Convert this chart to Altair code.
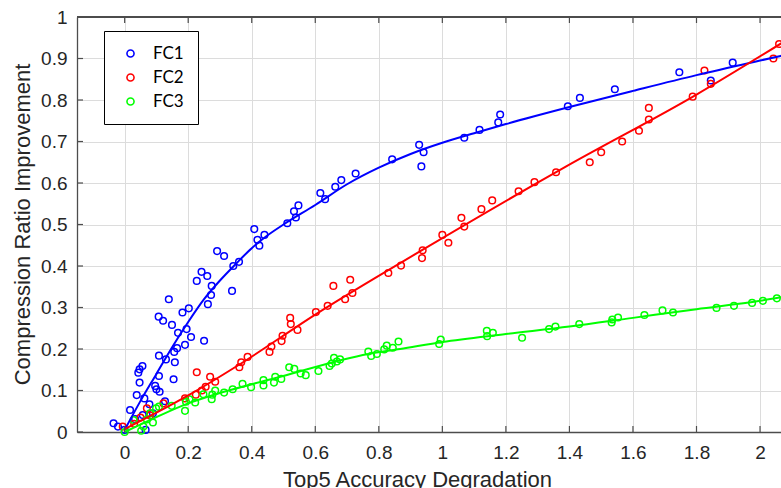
import altair as alt
import pandas as pd

# ---------------- data ----------------
series_names = ["FC1", "FC2", "FC3"]
series_colors = ["#0000ff", "#ff0000", "#00ff00"]

fc1_x = [-0.035, -0.021, 0.0, 0.017, 0.033, 0.038, 0.043, 0.047, 0.056, 0.047, 0.057, 0.066,
         0.062, 0.078, 0.089, 0.096, 0.1, 0.11, 0.108, 0.108, 0.107, 0.121, 0.13, 0.127, 0.139,
         0.149, 0.154, 0.158, 0.156, 0.165, 0.168, 0.182, 0.19, 0.195, 0.202, 0.209, 0.227,
         0.242, 0.25, 0.26, 0.262, 0.272, 0.274, 0.291, 0.313, 0.338, 0.342, 0.36, 0.408,
         0.418, 0.424, 0.44, 0.512, 0.533, 0.539, 0.547, 0.616, 0.631, 0.663, 0.682, 0.727,
         0.842, 0.927, 0.941, 0.934, 1.069, 1.117, 1.176, 1.182, 1.395, 1.433, 1.543, 1.746,
         1.845, 1.914]
fc1_y = [0.021, 0.013, 0.005, 0.053, 0.031, 0.089, 0.143, 0.151, 0.159, 0.119, 0.041, 0.005,
         0.081, 0.067, 0.045, 0.111, 0.103, 0.097, 0.135, 0.184, 0.278, 0.268, 0.175, 0.074,
         0.32, 0.258, 0.127, 0.168, 0.193, 0.202, 0.239, 0.288, 0.21, 0.248, 0.298, 0.229,
         0.364, 0.386, 0.22, 0.376, 0.308, 0.33, 0.352, 0.436, 0.424, 0.34, 0.4, 0.41, 0.489,
         0.463, 0.449, 0.475, 0.503, 0.532, 0.517, 0.546, 0.576, 0.561, 0.591, 0.607, 0.623,
         0.657, 0.692, 0.674, 0.64, 0.709, 0.728, 0.746, 0.765, 0.785, 0.805, 0.826, 0.867,
         0.847, 0.89]

fc2_x = [-0.006, 0.03, 0.05, 0.07, 0.08, 0.122, 0.19, 0.224, 0.227, 0.243, 0.255, 0.269,
         0.285, 0.361, 0.367, 0.387, 0.456, 0.462, 0.494, 0.497, 0.521, 0.523, 0.544, 0.602,
         0.639, 0.657, 0.694, 0.71, 0.717, 0.83, 0.87, 0.936, 0.938, 1.0, 1.019, 1.06, 1.069,
         1.123, 1.157, 1.24, 1.29, 1.358, 1.464, 1.5, 1.566, 1.619, 1.65, 1.65, 1.788, 1.825,
         1.845, 2.042, 2.06]
fc2_y = [0.013, 0.02, 0.035, 0.057, 0.04, 0.069, 0.081, 0.09, 0.144, 0.1, 0.109, 0.133,
         0.121, 0.156, 0.168, 0.181, 0.193, 0.206, 0.219, 0.232, 0.275, 0.26, 0.246, 0.289,
         0.304, 0.352, 0.32, 0.367, 0.335, 0.383, 0.401, 0.419, 0.438, 0.475, 0.456, 0.516,
         0.495, 0.537, 0.558, 0.58, 0.602, 0.626, 0.65, 0.674, 0.7, 0.726, 0.753, 0.781, 0.808,
         0.871, 0.839, 0.9, 0.935]

fc3_x = [0.0, 0.028, 0.052, 0.059, 0.07, 0.08, 0.089, 0.099, 0.108, 0.148, 0.19, 0.193,
         0.204, 0.222, 0.248, 0.274, 0.276, 0.285, 0.313, 0.34, 0.371, 0.398, 0.437, 0.437,
         0.47, 0.474, 0.493, 0.518, 0.534, 0.554, 0.57, 0.61, 0.645, 0.652, 0.659, 0.668,
         0.678, 0.767, 0.776, 0.794, 0.817, 0.825, 0.844, 0.862, 0.99, 0.995, 1.14, 1.141,
         1.159, 1.251, 1.336, 1.356, 1.431, 1.533, 1.535, 1.553, 1.636, 1.693, 1.726, 1.863,
         1.918, 1.975, 2.009, 2.053]
fc3_y = [0.0, 0.029, 0.003, 0.013, 0.03, 0.045, 0.023, 0.057, 0.061, 0.063, 0.051, 0.073,
         0.079, 0.071, 0.091, 0.079, 0.09, 0.1, 0.095, 0.103, 0.116, 0.108, 0.125, 0.112,
         0.119, 0.133, 0.128, 0.156, 0.152, 0.141, 0.137, 0.147, 0.159, 0.165, 0.179, 0.17,
         0.175, 0.194, 0.183, 0.188, 0.199, 0.208, 0.203, 0.218, 0.212, 0.223, 0.244, 0.231,
         0.239, 0.227, 0.248, 0.254, 0.26, 0.264, 0.271, 0.276, 0.282, 0.293, 0.288, 0.299,
         0.304, 0.311, 0.316, 0.322]

# fitted curves
fit1_x = [0.0, 0.05, 0.1, 0.15, 0.2, 0.25, 0.3, 0.35, 0.4, 0.45, 0.5, 0.6, 0.7, 0.8, 0.9,
          1.0, 1.1, 1.2, 1.4, 1.6, 1.8, 2.0, 2.07]
fit1_y = [0.005, 0.075, 0.14, 0.205, 0.265, 0.32, 0.365, 0.405, 0.443, 0.474, 0.5, 0.547,
          0.597, 0.637, 0.67, 0.697, 0.72, 0.742, 0.783, 0.822, 0.86, 0.895, 0.907]
fit2_x = [0.0, 0.2, 0.36, 0.6, 0.94, 1.39, 1.8, 2.07]
fit2_y = [0.007, 0.088, 0.162, 0.283, 0.44, 0.64, 0.813, 0.938]
fit3_x = [0.0, 0.1, 0.2, 0.27, 0.49, 0.767, 0.867, 1.0, 1.2, 1.4, 1.6, 1.8, 2.0, 2.07]
fit3_y = [0.0, 0.036, 0.069, 0.087, 0.133, 0.188, 0.2, 0.217, 0.236, 0.254, 0.275, 0.296,
          0.316, 0.325]

x_ticks = [0, 0.2, 0.4, 0.6, 0.8, 1.0, 1.2, 1.4, 1.6, 1.8, 2.0]
y_ticks = [0, 0.1, 0.2, 0.3, 0.4, 0.5, 0.6, 0.7, 0.8, 0.9, 1.0]

x_title = "Top5 Accuracy Degradation"
y_title = "Compression Ratio Improvement"

# ---------------- tables ----------------
pts = pd.concat([
    pd.DataFrame({"x": fc1_x, "y": fc1_y, "series": "FC1"}),
    pd.DataFrame({"x": fc2_x, "y": fc2_y, "series": "FC2"}),
    pd.DataFrame({"x": fc3_x, "y": fc3_y, "series": "FC3"}),
], ignore_index=True)
fits = pd.concat([
    pd.DataFrame({"x": fit1_x, "y": fit1_y, "series": "FC1"}),
    pd.DataFrame({"x": fit2_x, "y": fit2_y, "series": "FC2"}),
    pd.DataFrame({"x": fit3_x, "y": fit3_y, "series": "FC3"}),
], ignore_index=True)
xt = pd.DataFrame({"x": x_ticks})
yt = pd.DataFrame({"y": y_ticks})

W, H = 704, 415
FONT = "Liberation Sans"
AX = "#4d4d4d"

xscale = alt.Scale(domain=[-0.15, 2.066], nice=False, zero=False)
yscale = alt.Scale(domain=[0, 1], nice=False, zero=False)
cscale = alt.Scale(domain=series_names, range=series_colors)

x_axis = alt.Axis(values=x_ticks, format=".1~f", title=x_title, ticks=False, tickSize=0,
                  labelPadding=11, labelFontSize=19, labelFont=FONT, labelColor="#262626",
                  titleFont=FONT, titleFontSize=22, titleFontWeight="normal", titleColor="#262626",
                  titleX=340, titleY=54, titleBaseline="alphabetic", titleAlign="center",
                  domain=True, domainColor=AX, domainWidth=1.3, grid=True,
                  gridColor="#dcdcdc", gridWidth=1)
y_axis = alt.Axis(values=y_ticks, format=".1~f", title=y_title, ticks=False, tickSize=0,
                  labelPadding=10, labelFontSize=19, labelFont=FONT, labelColor="#262626",
                  titleFont=FONT, titleFontSize=22, titleFontWeight="normal", titleColor="#262626",
                  titleX=-48, titleY=207, titleAngle=270, titleBaseline="alphabetic",
                  titleAlign="center",
                  domain=True, domainColor=AX, domainWidth=1.3, grid=True,
                  gridColor="#dcdcdc", gridWidth=1)

points = alt.Chart(pts).mark_point(shape="circle", filled=False, size=44, strokeWidth=1.5,
                                   opacity=1).encode(
    x=alt.X("x:Q", scale=xscale, axis=x_axis),
    y=alt.Y("y:Q", scale=yscale, axis=y_axis),
    color=alt.Color("series:N", scale=cscale, legend=alt.Legend(
        title=None, orient="none", legendX=27, legendY=14,
        strokeColor="black", fillColor="white", padding=14,
        symbolType="circle", symbolSize=50, symbolStrokeWidth=1.6, symbolFillColor="white",
        symbolOffset=4, labelOffset=14, rowPadding=6,
        labelFont="Lato", labelFontSize=17, labelColor="#000000",
        labelExpr="datum.label + '  '")),
)

lines = alt.Chart(fits).mark_line(strokeWidth=2, interpolate="monotone").encode(
    x=alt.X("x:Q", scale=xscale),
    y=alt.Y("y:Q", scale=yscale),
    color=alt.Color("series:N", scale=cscale, legend=None),
    detail="series:N",
)

bottom_ticks = alt.Chart(xt).mark_rule(color=AX, strokeWidth=1.2).encode(
    x=alt.X("x:Q", scale=xscale),
    y=alt.value(H - 6), y2=alt.value(H),
)
top_ticks = alt.Chart(xt).mark_rule(color=AX, strokeWidth=1.2).encode(
    x=alt.X("x:Q", scale=xscale),
    y=alt.value(0), y2=alt.value(6),
)
top_line = alt.Chart(xt).mark_rule(color=AX, strokeWidth=1.3).encode(
    x=alt.value(0), x2=alt.value(W), y=alt.value(0),
)
left_ticks = alt.Chart(yt).mark_rule(color=AX, strokeWidth=1.2).encode(
    y=alt.Y("y:Q", scale=yscale),
    x=alt.value(0), x2=alt.value(6),
)

chart = alt.layer(points, lines, bottom_ticks, top_ticks, top_line, left_ticks).properties(
    width=W, height=H,
    padding={"left": 77, "top": 17, "right": 0, "bottom": 56},
    autosize=alt.AutoSizeParams(type="none"),
).configure_view(stroke=None).configure(background="white")

chart.save("out.html", embed_options={"renderer": "svg", "actions": False})
